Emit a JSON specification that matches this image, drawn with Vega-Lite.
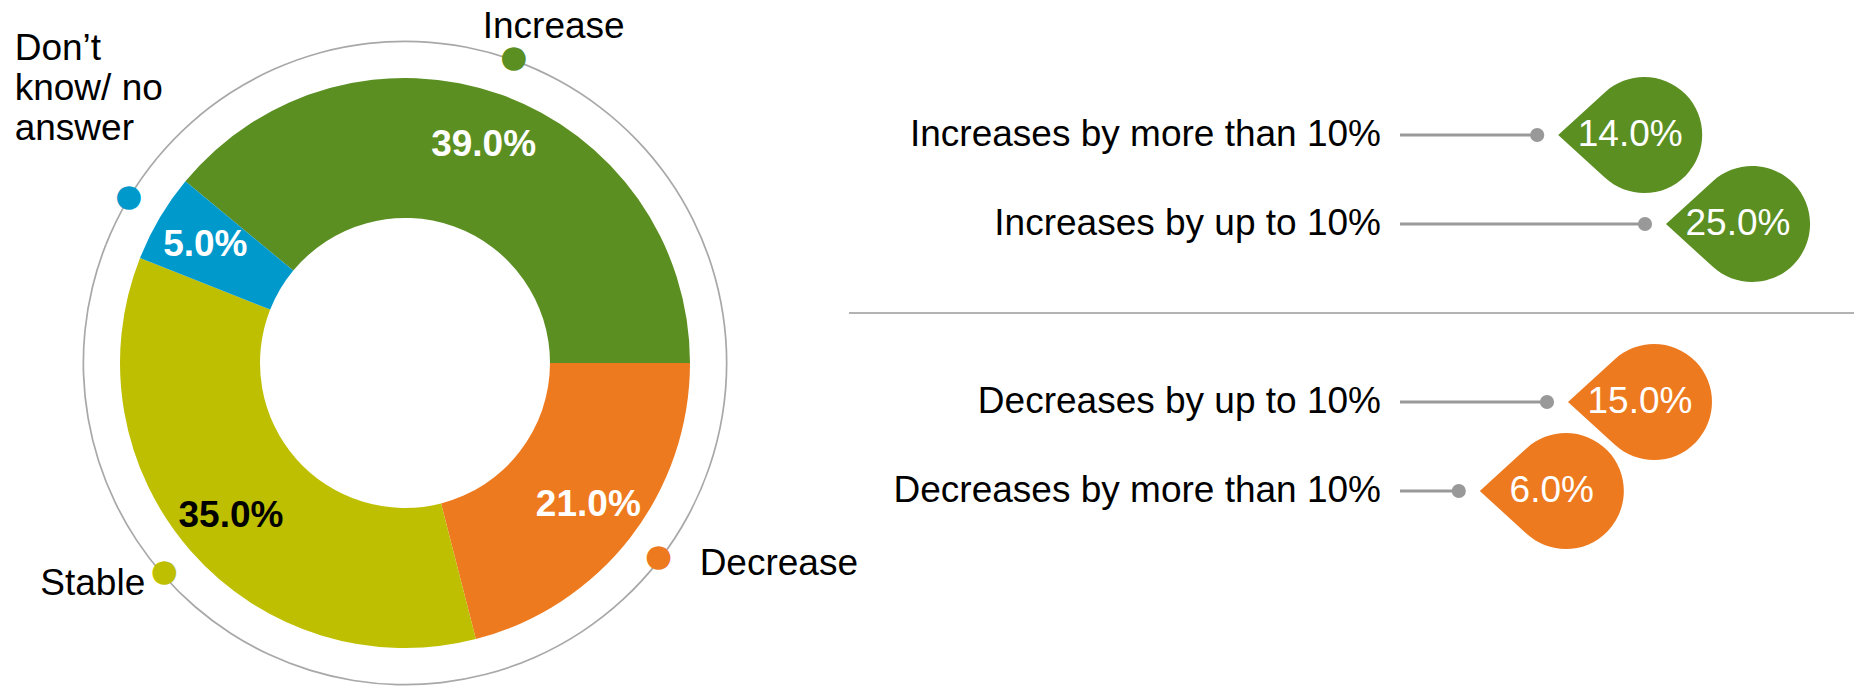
{
  "$schema": "https://vega.github.io/schema/vega-lite/v6.json",
  "padding": 0,
  "bounds": "flush",
  "spacing": 39,
  "background": "white",
  "config": {"view": {"stroke": null}, "font": "Liberation Sans"},
  "hconcat": [
    {
      "width": 810,
      "height": 687,
      "data": {"values": [
        {"cat": "Increase", "share": 0.39, "rank": 1},
        {"cat": "Decrease", "share": 0.21, "rank": 2},
        {"cat": "Stable", "share": 0.35, "rank": 3},
        {"cat": "Don’t\nknow/ no\nanswer", "share": 0.05, "rank": 4}
      ]},
      "encoding": {
        "theta": {"field": "share", "type": "quantitative", "stack": true, "scale": {"range": [-0.879646, 5.403539]}},
        "order": {"field": "rank", "type": "quantitative"}
      },
      "layer": [
        {"mark": {"type": "arc", "radius": 322.5, "radius2": 320.8, "color": "#a8a8a8", "yOffset": 19.5}},
        {
          "mark": {"type": "arc", "radius": 285, "radius2": 145, "yOffset": 19.5},
          "encoding": {"color": {"field": "cat", "type": "nominal", "legend": null,
            "scale": {"domain": ["Increase", "Decrease", "Stable", "Don’t\nknow/ no\nanswer"], "range": ["#5b8f22", "#ee7a1f", "#bebf00", "#0099cc"]}}}
        },
        {
          "mark": {"type": "text", "radius": 232, "fontSize": 37, "fontWeight": "bold", "baseline": "middle", "yOffset": 19.5},
          "encoding": {
            "text": {"field": "share", "type": "quantitative", "format": ".1%"},
            "color": {"condition": {"test": "datum.cat === 'Stable'", "value": "#000000"}, "value": "#ffffff"}
          }
        },
        {
          "mark": {"type": "text", "radius": 321, "font": "DejaVu Sans", "fontSize": 31, "baseline": "middle", "dy": -3, "text": "●", "yOffset": 19.5},
          "encoding": {"color": {"field": "cat", "type": "nominal", "legend": null}}
        },
        {
          "mark": {"type": "text", "radius": 321, "align": "left", "baseline": "alphabetic", "dx": -31, "dy": -23, "fontSize": 37, "color": "#000000", "yOffset": 19.5},
          "encoding": {"text": {"condition": {"test": "datum.rank === 1", "field": "cat"}, "value": ""}}
        },
        {
          "mark": {"type": "text", "radius": 321, "align": "left", "baseline": "alphabetic", "dx": 41, "dy": 15, "fontSize": 37, "color": "#000000", "yOffset": 19.5},
          "encoding": {"text": {"condition": {"test": "datum.rank === 2", "field": "cat"}, "value": ""}}
        },
        {
          "mark": {"type": "text", "radius": 321, "align": "right", "baseline": "alphabetic", "dx": -19, "dy": 20, "fontSize": 37, "color": "#000000", "yOffset": 19.5},
          "encoding": {"text": {"condition": {"test": "datum.rank === 3", "field": "cat"}, "value": ""}}
        },
        {
          "mark": {"type": "text", "radius": 321, "align": "left", "baseline": "alphabetic", "dx": -114, "dy": -140, "fontSize": 37, "lineHeight": 40, "lineBreak": "\n", "color": "#000000", "yOffset": 19.5, "clip": true},
          "encoding": {"text": {"condition": {"test": "datum.rank === 4", "field": "cat"}, "value": ""}}
        }
      ]
    },
    {
      "width": 1005,
      "height": 537,
      "data": {"values": [
        {"label": "Increases by more than 10%", "share": 0.14, "dir": "Increase"},
        {"label": "Increases by up to 10%", "share": 0.25, "dir": "Increase"},
        {"label": "Decreases by up to 10%", "share": 0.15, "dir": "Decrease"},
        {"label": "Decreases by more than 10%", "share": 0.06, "dir": "Decrease"}
      ]},
      "encoding": {
        "y": {"field": "label", "type": "nominal", "axis": null,
          "scale": {"type": "point", "padding": 0.517, "domain": ["gap", "Increases by more than 10%", "Increases by up to 10%", "separator", "Decreases by up to 10%", "Decreases by more than 10%"]}},
        "x": {"field": "share", "type": "quantitative", "axis": null, "scale": {"domain": [-0.56224, 0.46327], "nice": false, "zero": false}}
      },
      "layer": [
        {
          "data": {"values": [{}]},
          "mark": {"type": "rule", "color": "#b3b3b3", "strokeWidth": 2},
          "encoding": {"y": {"datum": "separator", "type": "nominal"}, "x": null}
        },
        {
          "mark": {"type": "rule", "color": "#999999", "strokeWidth": 3},
          "encoding": {"x": {"datum": 0, "type": "quantitative", "axis": null}, "x2": {"field": "share"}}
        },
        {
          "mark": {"type": "point", "shape": "circle", "filled": true, "size": 200, "color": "#999999", "opacity": 1}
        },
        {
          "mark": {"type": "point", "shape": "M -1 0 L -0.349 -0.595 A 0.806 0.806 0 1 1 -0.349 0.595 Z", "size": 20736, "filled": true, "opacity": 1, "xOffset": 93},
          "encoding": {"color": {"field": "dir", "type": "nominal", "legend": null, "scale": {"domain": ["Increase", "Decrease"], "range": ["#5b8f22", "#ee7a1f"]}}}
        },
        {
          "mark": {"type": "text", "dx": 93, "fontSize": 37, "color": "#ffffff", "baseline": "middle"},
          "encoding": {"text": {"field": "share", "type": "quantitative", "format": ".1%"}}
        },
        {
          "mark": {"type": "text", "align": "right", "dx": -19, "fontSize": 37, "color": "#000000", "baseline": "middle"},
          "encoding": {"x": {"datum": 0, "type": "quantitative", "axis": null}, "text": {"field": "label"}}
        }
      ]
    }
  ]
}
